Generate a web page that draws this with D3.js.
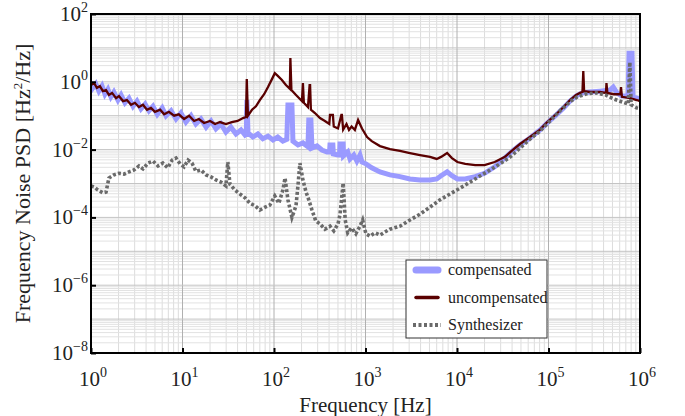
<!DOCTYPE html>
<html><head><meta charset="utf-8">
<script src="https://cdn.jsdelivr.net/npm/d3@7"></script>
<style>body{margin:0;background:#fff}svg{display:block}text{font-family:"Liberation Serif","Times New Roman",serif;fill:#222}</style>
</head><body><svg id="c" width="685" height="416"></svg>
<script>
const xTickExp = [0,1,2,3,4,5,6];
const yTickExp = [-8,-6,-4,-2,0,2];
const seriesNames = ["compensated","uncompensated","Synthesizer"];

const uncompFreq = [1.0,1.08,1.16,1.25,1.35,1.46,1.57,1.70,1.88,2.02,2.24,2.47,2.74,3.02,3.34,3.70,4.09,4.52,5.0,5.7,6.3,7.1,8.1,9.1,10.4,11.8,13.4,15.1,17.2,20,22.7,25.7,29.8,34.6,40,45.9,49.4,50.4,51.9,57.5,63.5,70,78,86,95,102,110,122,135,149,151,155,174,192,202,207,212,235,245,248,253,280,318,360,402,409,440,450,500,545,552,570,620,660,705,765,830,915,1040,1170,1440,1850,2380,3060,3940,5070,6000,6700,7800,8800,10100,12300,15800,20000,25800,33400,40500,48800,62800,80800,96800,119000,146000,172000,200000,221000,235000,240000,245000,284000,365000,425000,430000,440000,520000,610000,620000,635000,780000,920000,1000000];
const uncompPSD = [0.80,0.92,0.66,0.75,0.53,0.57,0.41,0.47,0.33,0.38,0.27,0.29,0.21,0.24,0.18,0.21,0.15,0.17,0.13,0.15,0.11,0.13,0.10,0.11,0.080,0.10,0.070,0.080,0.061,0.070,0.057,0.065,0.057,0.065,0.070,0.085,0.092,1.2,0.10,0.15,0.19,0.29,0.43,0.70,1.2,1.8,1.5,1.13,0.80,0.62,5.0,0.57,0.41,0.31,0.27,0.92,0.24,0.18,0.80,0.80,0.15,0.12,0.085,0.070,0.057,0.105,0.105,0.048,0.042,0.105,0.105,0.039,0.057,0.038,0.048,0.038,0.075,0.042,0.0235,0.0178,0.0127,0.0103,0.0091,0.0079,0.0069,0.0061,0.0053,0.0061,0.0079,0.0056,0.0043,0.0038,0.0035,0.0035,0.0043,0.0061,0.0097,0.0146,0.0235,0.039,0.065,0.105,0.18,0.29,0.41,0.47,0.50,2.08,0.53,0.50,0.50,0.47,0.92,0.47,0.43,0.43,0.70,0.36,0.33,0.29,0.27];

const compFreq = [1.0,1.05,1.13,1.22,1.32,1.42,1.53,1.65,1.78,1.97,2.13,2.35,2.60,2.88,3.18,3.52,3.90,4.30,4.76,5.3,6.0,6.6,7.5,8.5,9.6,10.9,12.4,14.0,15.9,18.1,20.5,23.2,26.3,29.8,33.8,38.4,43.6,48.2,49.8,50.6,52,58.8,66.6,75.5,86,97.5,110,125,138,142,157,161,183,207,235,240,253,260,295,334,380,405,409,440,445,500,520,526,570,575,640,677,745,805,870,915,1010,1170,1440,1850,2380,3060,3940,5070,6000,6700,7800,8800,10100,12300,15800,20000,25800,33400,40500,48800,62800,80800,96800,119000,146000,172000,200000,232000,284000,365000,470000,510000,560000,635000,740000,759000,818000,838000,1000000];
const compPSD = [1.0,0.66,0.86,0.53,0.75,0.43,0.60,0.36,0.50,0.29,0.41,0.24,0.33,0.19,0.27,0.16,0.22,0.14,0.19,0.11,0.17,0.10,0.14,0.080,0.12,0.065,0.10,0.057,0.080,0.046,0.070,0.041,0.057,0.033,0.046,0.029,0.038,0.027,0.029,0.29,0.031,0.0235,0.029,0.0209,0.025,0.0192,0.0235,0.0178,0.020,0.207,0.207,0.0178,0.0137,0.0157,0.0121,0.075,0.075,0.0111,0.0128,0.0097,0.0085,0.0085,0.0137,0.0137,0.0074,0.0069,0.0069,0.0146,0.0146,0.0065,0.0085,0.0053,0.0069,0.0046,0.0069,0.0043,0.0038,0.0029,0.0022,0.0018,0.0016,0.00136,0.00127,0.00127,0.00136,0.0017,0.0022,0.0017,0.00136,0.00136,0.0016,0.0020,0.0031,0.0057,0.0091,0.0137,0.022,0.038,0.061,0.10,0.17,0.27,0.38,0.47,0.50,0.53,0.57,0.70,0.47,0.38,0.38,7.0,7.0,0.36,0.31];

const synthFreq = [1.0,1.08,1.19,1.35,1.46,1.57,1.78,2.02,2.3,2.6,2.95,3.34,3.70,4.2,4.76,5.4,6.1,6.9,7.7,8.5,9.4,10.4,11.5,12.7,14.0,15.9,18.1,20.5,23.2,26.3,29.8,31.3,33,37.5,42.5,48.2,54.7,62,70,80,90,102,113,125,132,142,157,174,183,192,207,224,240,260,286,318,360,409,450,500,526,570,600,640,705,785,870,930,1010,1120,1270,1440,1630,1850,2380,3060,3940,5070,6520,8380,10800,13900,17800,23000,29500,38000,48800,62800,80800,103800,133600,171800,207000,260000,330000,420000,520000,680000,745000,775000,800000,920000,1000000];
const synthPSD = [8.5e-4,7.9e-4,6.4e-4,5.3e-4,5.6e-4,1.45e-3,1.8e-3,2.0e-3,1.9e-3,2.2e-3,2.5e-3,3.3e-3,2.7e-3,4.0e-3,4.6e-3,3.3e-3,4.0e-3,2.9e-3,4.9e-3,5.6e-3,3.8e-3,3.1e-3,4.9e-3,4.0e-3,2.3e-3,2.5e-3,1.8e-3,1.56e-3,1.27e-3,1.1e-3,8.5e-4,4.3e-3,9.5e-4,6.4e-4,4.9e-4,3.8e-4,2.6e-4,2.2e-4,1.65e-4,2.0e-4,2.3e-4,4.3e-4,2.6e-4,6.4e-4,1.45e-3,3.3e-4,1.0e-4,2.2e-4,9.0e-4,4.0e-3,1.27e-3,5.6e-4,3.3e-4,1.65e-4,7.9e-5,6.4e-5,4.5e-5,5.5e-5,4.0e-5,6.4e-5,1.2e-4,1.03e-3,8.4e-5,3.5e-5,4.9e-5,3.3e-5,5.5e-5,8.4e-5,3.3e-5,2.8e-5,3.5e-5,3.0e-5,3.7e-5,4.5e-5,5.5e-5,8.4e-5,1.24e-4,2.0e-4,3.3e-4,4.9e-4,7.3e-4,1.1e-3,1.66e-3,2.5e-3,3.8e-3,6.0e-3,0.0111,0.0205,0.035,0.070,0.14,0.26,0.36,0.44,0.47,0.41,0.31,0.24,0.22,3.8,0.21,0.17,0.16];

const svg = d3.select("#c");
const L=91,R=640,T=14,B=353;
const x = d3.scaleLog().domain([1,1e6]).range([L,R]);
const y = d3.scaleLog().domain([1e-8,1e2]).range([B,T]);

// grid
const gx = svg.append("g");
const minorX=[], majorX=[];
for(let e=0;e<6;e++){ majorX.push(Math.pow(10,e)); for(let m=2;m<10;m++) minorX.push(m*Math.pow(10,e)); }
majorX.push(1e6);
const minorY=[], majorY=[];
for(let e=-8;e<2;e++){ majorY.push(Math.pow(10,e)); for(let m=2;m<10;m++) minorY.push(m*Math.pow(10,e)); }
majorY.push(100);
gx.selectAll(".mx").data(minorX).join("line").attr("x1",d=>x(d)).attr("x2",d=>x(d)).attr("y1",T).attr("y2",B).attr("stroke","#dcdcdc").attr("stroke-width",1);
gx.selectAll(".my").data(minorY).join("line").attr("y1",d=>y(d)).attr("y2",d=>y(d)).attr("x1",L).attr("x2",R).attr("stroke","#e2e2e2").attr("stroke-width",1);
gx.selectAll(".Mx").data(majorX).join("line").attr("x1",d=>x(d)).attr("x2",d=>x(d)).attr("y1",T).attr("y2",B).attr("stroke","#b0b0b0").attr("stroke-width",1);
gx.selectAll(".My").data(majorY).join("line").attr("y1",d=>y(d)).attr("y2",d=>y(d)).attr("x1",L).attr("x2",R).attr("stroke","#c4c4c4").attr("stroke-width",1);

svg.append("clipPath").attr("id","clip").append("rect").attr("x",L).attr("y",T).attr("width",R-L).attr("height",B-T);
const plot = svg.append("g").attr("clip-path","url(#clip)");
const line = d3.line().x(d=>x(d[0])).y(d=>y(d[1]));
const zip=(a,b)=>a.map((v,i)=>[v,b[i]]);

plot.append("path").datum(zip(compFreq,compPSD)).attr("d",line).attr("fill","none").attr("stroke","#9a9aff").attr("stroke-width",5).attr("stroke-linejoin","miter");
plot.append("path").datum(zip(uncompFreq,uncompPSD)).attr("d",line).attr("fill","none").attr("stroke","#5a0000").attr("stroke-width",2.3);
plot.append("path").datum(zip(synthFreq,synthPSD)).attr("d",line).attr("fill","none").attr("stroke","#6a6a6a").attr("stroke-width",3.6).attr("stroke-dasharray","3,2.2");

// axes ticks
const xAxis = d3.axisBottom(x).tickValues(xTickExp.map(e=>Math.pow(10,e))).tickSize(-5).tickFormat("");
const gxa = svg.append("g").attr("transform",`translate(0,${B})`).call(xAxis);
gxa.select(".domain").remove();
gxa.selectAll("line").attr("stroke","#000").attr("stroke-width",2);
const yAxis = d3.axisLeft(y).tickValues(yTickExp.map(e=>Math.pow(10,e))).tickSize(-5).tickFormat("");
const gya = svg.append("g").attr("transform",`translate(${L},0)`).call(yAxis);
gya.select(".domain").remove();
gya.selectAll("line").attr("stroke","#000").attr("stroke-width",2);

// tick labels
xTickExp.forEach(e=>{
  const t = svg.append("text").attr("x",x(Math.pow(10,e))+2).attr("y",386).attr("text-anchor","middle").attr("font-size",21);
  t.append("tspan").text("10");
  t.append("tspan").attr("font-size",14).attr("dy",-9).text(String(e));
});
yTickExp.forEach(e=>{
  const t = svg.append("text").attr("x",L-3).attr("y",y(Math.pow(10,e))+7).attr("text-anchor","end").attr("font-size",21);
  t.append("tspan").text("10");
  t.append("tspan").attr("font-size",14).attr("dy",-9).text(e<0?"\u2212"+(-e):String(e));
});

// frame
svg.append("rect").attr("x",L).attr("y",T).attr("width",R-L).attr("height",B-T).attr("fill","none").attr("stroke","#000").attr("stroke-width",2);

// titles
svg.append("text").attr("x",(L+R)/2).attr("y",412).attr("text-anchor","middle").attr("font-size",21).text("Frequency [Hz]");
const yt = svg.append("text").attr("transform",`translate(30,${(T+B)/2}) rotate(-90)`).attr("text-anchor","middle").attr("font-size",22);
yt.append("tspan").text("Frequency Noise PSD [Hz");
yt.append("tspan").attr("font-size",13).attr("dy",-8).text("2");
yt.append("tspan").attr("dy",8).text("/Hz]");

// legend
const lg = svg.append("g");
lg.append("rect").attr("x",406).attr("y",260).attr("width",141).attr("height",78).attr("fill","#fff").attr("stroke","#333").attr("stroke-width",1);
const lstyles=[{c:"#9a9aff",w:7,d:null,cap:"round"},{c:"#5a0000",w:3.5,d:null,cap:"round"},{c:"#6a6a6a",w:4,d:"3,2.5",cap:"butt"}];
seriesNames.forEach((n,i)=>{
  const yy = 270+i*27.5;
  const s=lstyles[i];
  const ln = lg.append("line").attr("x1",i===2?413:416).attr("x2",i===2?441:438).attr("y1",yy).attr("y2",yy).attr("stroke",s.c).attr("stroke-width",s.w).attr("stroke-linecap",s.cap);
  if(s.d) ln.attr("stroke-dasharray",s.d);
  lg.append("text").attr("x",448).attr("y",yy+5).attr("font-size",16).text(n);
});
</script></body></html>
